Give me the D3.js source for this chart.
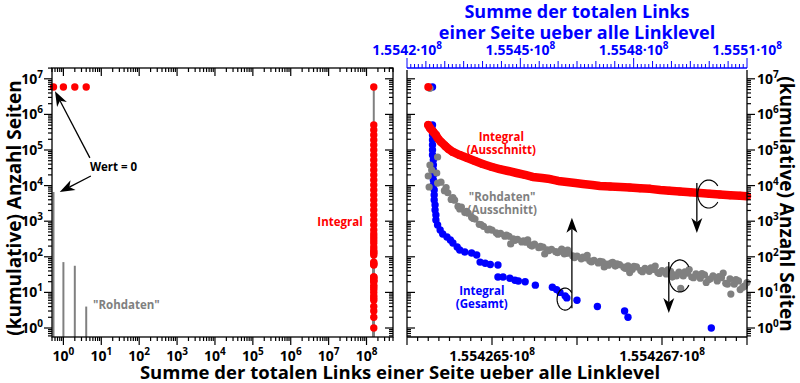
<!DOCTYPE html>
<html><head><meta charset="utf-8">
<script src="https://cdn.jsdelivr.net/npm/d3@7"></script>
<style>
body{margin:0;background:#fff}
svg{display:block}
text{font-family:"Open Sans",sans-serif;font-weight:bold}
</style>
</head><body><svg id="c" width="800" height="383"></svg>
<script>
// ---------------- data ----------------
const yTickExponents = [0,1,2,3,4,5,6,7];
const leftXTickExponents = [0,1,2,3,4,5,6,7,8];
const bottomRightTicks = [155426500, 155426700];
const topRightTicks = [155420000, 155450000, 155480000, 155510000];

// left panel: cumulative at small x (x = 0 shown at the axis edge)
const integralLow = [[0,5900000],[1,5900000],[2,5900000],[4,5900000]];
// left panel: raw data at small x
const rohdatenLow = [[0,6600],[1,71],[2,56],[4,4]];

// Integral (Gesamt) [x, count]
const integralGesamt = [
[155426430,5900000],
[155426430,503000],[155426430,365000],[155426430,264000],[155426430,191000],[155426430,138000],
[155426430,100000],[155426430,72400],[155426431,52400],[155426431,37900],[155426431,27400],
[155426431,19900],[155426431,14400],[155426431,10400],[155426432,7520],[155426432,5450],
[155426432,3940],[155426433,2850],[155426433,2060],[155426434,1490],[155426434,1080],
[155426436,782],[155426439,566],[155426442,437],[155426447,360],[155426451,296],[155426454,244],
[155426459,188],[155426462,155],[155426468,136],[155426476,128],[155426482,112],
[155426486,71],[155426492,66],[155426498,61],[155426507,59],
[155426507,27],[155426513,27],[155426521,25],[155426527,22],[155426531,21],[155426539,20],
[155426551,16],[155426571,14],[155426576,12],[155426580,10],[155426586,8],[155426588,7],
[155426600,6],[155426624,4],[155426656,3],[155426660,2],[155426758,1]
];

// Integral (Ausschnitt) [x, count]
const integralAusschnitt = [
[155426425,5900000],
[155426425,503000],[155426427,415000],[155426431,320000],[155426434,264000],[155426436,217000],
[155426440,168000],[155426445,130000],[155426449,107000],[155426454,88000],[155426462,72000],
[155426471,59600],[155426480,49000],[155426489,40500],[155426500,33300],[155426509,29200],
[155426519,25700],[155426529,22600],[155426539,19900],[155426548,17500],[155426559,16300],
[155426568,15300],[155426578,13500],[155426588,12600],[155426598,11800],[155426607,11100],
[155426618,10400],[155426627,9750],[155426639,9500],[155426651,9140],[155426662,8800],
[155426674,8450],[155426686,8100],[155426698,7520],[155426709,7140],[155426721,6830],
[155426733,6490],[155426745,6200],[155426756,5920],[155426768,5660],[155426780,5370],
[155426792,5160],[155426800,5040]
];

// "Rohdaten" (Ausschnitt) [x, count]
const rohdatenAusschnitt = [
[155426425,18600],[155426426,9140],[155426427,5400000],[155426427,37900],[155426429,27400],
[155426435,22600],[155426436,63600],[155426436,11800],
[155426440,12500],[155426444,7200],[155426446,8800],[155426448,6300],[155426452,4100],
[155426454,4600],[155426456,3900],[155426460,2600],[155426462,2200],[155426464,2500],
[155426468,1750],[155426470,1900],[155426472,1680],[155426476,1300],[155426478,1200],
[155426480,1150],[155426485,820],[155426487,800],[155426490,720],[155426495,570],
[155426497,600],[155426500,560],[155426505,470],[155426507,430],[155426510,455],
[155426515,380],[155426517,410],[155426520,375],[155426522,230],[155426525,320],[155426527,290],
[155426530,310],[155426535,262],[155426537,280],[155426540,258],[155426542,300],[155426545,215],
[155426547,200],[155426550,226],[155426555,180],[155426557,195],[155426560,186],[155426562,120],
[155426565,158],[155426567,150],[155426570,162],[155426575,139],[155426577,130],
[155426580,143],[155426582,165],[155426585,121],[155426587,125],[155426589,155],[155426590,127],
[155426595,106],[155426597,95],[155426600,104],[155426605,88],[155426607,98],
[155426610,93],[155426612,110],[155426615,77],[155426617,72],[155426620,80],[155426625,67],
[155426627,75],[155426630,72],[155426632,52],[155426635,62],[155426637,58],[155426640,66],
[155426642,70],[155426645,55],[155426647,63],[155426650,60],[155426655,51],[155426657,47],
[155426660,56],[155426662,36],[155426665,44],[155426667,54],[155426670,52],[155426675,41],
[155426677,38],[155426680,47],[155426685,39],[155426687,49],[155426690,44],[155426692,55],
[155426695,36],[155426697,34],[155426700,41],[155426705,33],[155426707,43],[155426710,39],
[155426712,27],[155426715,31],[155426717,29],[155426720,37],[155426722,13],[155426725,29],
[155426727,38],[155426730,35],[155426732,44],[155426735,27],[155426737,26],[155426740,33],
[155426745,25],[155426747,34],[155426750,31],[155426752,19],[155426755,23],[155426757,24],
[155426760,29],[155426765,21],[155426767,28],[155426770,26],[155426772,35],[155426775,18],
[155426777,17],[155426780,24],[155426781,9],[155426785,17],[155426787,23],[155426790,21],
[155426792,12],[155426795,14],[155426797,15],[155426800,19]
];

// annotations (data coordinates)
const wertArrows = [{from:[5.0,60000],to:[0.6,4500000]},{from:[5.3,18600],to:[0.8,6600]}];
const upArrow = {x:155426594, from:3.6, to:1240};
const downArrowRed = {x:155426741, from:11800, to:465};
const downArrowGrey = {x:155426708, from:71, to:2.64};
const curls = [{x:155426586,y:6.5,rx:8,ry:11},{x:155426755,y:5800,rx:11,ry:14},{x:155426721,y:29,rx:11,ry:16}];

// ---------------- layout ----------------
const svg = d3.select("#c");
const LP = {x0:52, x1:393, y0:68, y1:337};
const RP = {x0:407, x1:747, y0:68, y1:337};
const RED="#ff0000", BLUE="#0000ff", GREY="#808080";

const y = d3.scaleLog().domain([1,1e7]).range([328,78.8]);
const xL = d3.scaleLog().domain([0.5,5e8]).range([LP.x0,LP.x1]);
const xB = d3.scaleLinear().domain([155426400,155426800]).range([RP.x0,RP.x1]);
const xT = d3.scaleLinear().domain([155420000,155510000]).range([RP.x0,RP.x1]);
const xLp = v => v<=0 ? LP.x0+1.5 : xL(v);

function logTicks(scale, lo, hi, eMin, eMax){
  const out=[];
  for(let e=eMin;e<=eMax;e++) for(let m=1;m<=9;m++){
    const v=m*Math.pow(10,e), p=scale(v);
    if(p>=lo-0.01 && p<=hi+0.01) out.push({v,p,major:m===1,e});
  }
  return out;
}
const yT = logTicks(y, LP.y0, LP.y1, -1, 8);
const xLT = logTicks(xL, LP.x0, LP.x1, -1, 9);
const MAJ=8, MIN=4;

const g = svg.append("g");
function ln(x1,y1,x2,y2,col="#000",w=1.2){
  g.append("line").attr("x1",x1).attr("y1",y1).attr("x2",x2).attr("y2",y2)
   .attr("stroke",col).attr("stroke-width",w);
}
function powLabel(x,yy,exp,anchor,col="#000",pre=""){
  const t=g.append("text").attr("x",x).attr("y",yy).attr("text-anchor",anchor)
    .attr("font-size",14).attr("fill",col);
  t.append("tspan").text(pre+"10");
  t.append("tspan").attr("dy",-6).attr("font-size",10).text(exp);
  return t;
}

// ---- left panel data ----
const rawLeft = rohdatenLow.concat(rohdatenAusschnitt);
g.selectAll(".rawL").data(rawLeft).enter().append("line")
  .attr("x1",d=>xLp(d[0])).attr("x2",d=>xLp(d[0]))
  .attr("y1",LP.y1).attr("y2",d=>y(d[1]))
  .attr("stroke",GREY).attr("stroke-width",2);
const intLeft = integralLow.concat(integralGesamt);
g.selectAll(".intL").data(intLeft).enter().append("circle")
  .attr("cx",d=>xLp(d[0])).attr("cy",d=>y(d[1])).attr("r",3.7).attr("fill",RED);

// left frame & ticks (labelled sides: ticks outward; other sides: inward)
g.append("rect").attr("x",LP.x0).attr("y",LP.y0).attr("width",LP.x1-LP.x0).attr("height",LP.y1-LP.y0)
  .attr("fill","none").attr("stroke","#000").attr("stroke-width",1.3);
yT.forEach(t=>{const L=t.major?MAJ:MIN; ln(LP.x0,t.p,LP.x0-L,t.p); ln(LP.x1,t.p,LP.x1-L,t.p);});
xLT.forEach(t=>{const L=t.major?MAJ:MIN; ln(t.p,LP.y1,t.p,LP.y1+L); ln(t.p,LP.y0,t.p,LP.y0+L);});
yTickExponents.forEach(e=>powLabel(43,y(Math.pow(10,e))+5,e,"end"));
leftXTickExponents.forEach(e=>powLabel(xL(Math.pow(10,e)),361,e,"middle"));

// ---- right panel data ----
const dot=(cls,data,col,r,sc)=>g.selectAll("."+cls).data(data).enter().append("circle")
  .attr("cx",d=>sc(d[0])).attr("cy",d=>y(d[1])).attr("r",r).attr("fill",col);
dot("bl",integralGesamt,BLUE,3.7,xB);
dot("gr",rohdatenAusschnitt,GREY,3.6,xB);
g.append("path").datum(integralAusschnitt.slice(1))
  .attr("d",d3.line().x(d=>xB(d[0])).y(d=>y(d[1])))
  .attr("fill","none").attr("stroke",RED).attr("stroke-width",8.5)
  .attr("stroke-linecap","round").attr("stroke-linejoin","round");
dot("rd",integralAusschnitt,RED,4,xB);

// right frame
ln(RP.x0,70,RP.x0,RP.y1,"#000",1.3); ln(RP.x1,70,RP.x1,RP.y1,"#000",1.3);
ln(RP.x0,RP.y1,RP.x1,RP.y1,"#000",1.3);
yT.forEach(t=>{const L=t.major?MAJ:MIN; if(t.p<71) return; ln(RP.x0,t.p,RP.x0+L,t.p); ln(RP.x1,t.p,RP.x1+L,t.p);});
yTickExponents.forEach(e=>powLabel(757,y(Math.pow(10,e))+5,e,"start"));
d3.range(0,33).map(i=>155426400+i*12.5).forEach(v=>{const maj=(Math.abs(v%100)<1e-6); ln(xB(v),RP.y1,xB(v),RP.y1+(maj?MAJ:MIN));});
bottomRightTicks.forEach(v=>powLabel(xB(v),361,8,"middle","#000",d3.format(".7f")(v/1e8).replace(/0+$/,"")+"\u00b7"));
// top blue axis
ln(RP.x0,RP.y0,RP.x1,RP.y0,BLUE,1.3);
d3.range(155420000,155510001,1000).forEach(v=>{
  const k=(v-155420000);
  const L = k%30000===0?10:(k%5000===0?7:4);
  ln(xT(v),RP.y0,xT(v),RP.y0-L,BLUE,1);
});
topRightTicks.forEach(v=>powLabel(xT(v),55,8,"middle",BLUE,d3.format(".4f")(v/1e8)+"\u00b7"));

// ---- annotations ----
function arrow(x1,y1,x2,y2,L=15,W=11){
  const a=Math.atan2(y2-y1,x2-x1), ux=Math.cos(a), uy=Math.sin(a), px=-uy, py=ux;
  const bx=x2-L*ux, by=y2-L*uy, nx=x2-0.72*L*ux, ny=y2-0.72*L*uy;
  ln(x1,y1,nx,ny,"#000",1.3);
  g.append("path").attr("d",`M${x2},${y2}L${bx+px*W/2},${by+py*W/2}L${nx},${ny}L${bx-px*W/2},${by-py*W/2}Z`).attr("fill","#000");
}
wertArrows.forEach(a=>arrow(xL(a.from[0]),y(a.from[1]),xLp(a.to[0]),y(a.to[1])));
arrow(xB(upArrow.x),y(upArrow.from),xB(upArrow.x),y(upArrow.to));
arrow(xB(downArrowRed.x),y(downArrowRed.from),xB(downArrowRed.x),y(downArrowRed.to));
arrow(xB(downArrowGrey.x),y(downArrowGrey.from),xB(downArrowGrey.x),y(downArrowGrey.to));
curls.forEach(c=>{
  const cx=xB(c.x), cy=y(c.y), a0=35*Math.PI/180, a1=325*Math.PI/180;
  const pts=d3.range(0,61).map(i=>{const a=a0+(a1-a0)*i/60; return [cx+c.rx*Math.cos(a), cy-c.ry*Math.sin(a)];});
  g.append("path").attr("d",d3.line()(pts)).attr("fill","none").attr("stroke","#000").attr("stroke-width",1.2);
});

// ---- texts ----
function txt(x,yy,s,col,size,anchor="middle"){
  return g.append("text").attr("x",x).attr("y",yy).attr("text-anchor",anchor).attr("font-size",size).attr("fill",col).text(s);
}
function txt2(x,yy,s1,s2,col,size){
  const t=g.append("text").attr("x",x).attr("y",yy).attr("text-anchor","middle").attr("font-size",size).attr("fill",col);
  t.append("tspan").attr("x",x).text(s1);
  t.append("tspan").attr("x",x).attr("dy",13).text(s2);
}
txt(xL(5.0),y(25700),"Wert = 0","#000",11.5,"start");
txt(xL(2.0e7),y(733),"Integral",RED,11.5);
txt(xL(46),y(3.4),"\"Rohdaten\"",GREY,11.5);
txt2(xB(155426511),y(179000),"Integral","(Ausschnitt)",RED,11.5);
txt2(xB(155426512),y(3690),"\"Rohdaten\"","(Ausschnitt)",GREY,11.5);
txt2(xB(155426488),y(8.45),"Integral","(Gesamt)",BLUE,11.5);

txt(577,18,"Summe der totalen Links",BLUE,18);
txt(577,39,"einer Seite ueber alle Linklevel",BLUE,18);
txt(400,379,"Summe der totalen Links einer Seite ueber alle Linklevel","#000",18.5);
g.append("text").attr("transform","translate(21,208) rotate(-90)").attr("text-anchor","middle")
  .attr("font-size",19).text("(kumulative) Anzahl Seiten");
g.append("text").attr("transform","translate(780,204) rotate(90)").attr("text-anchor","middle")
  .attr("font-size",19).text("(kumulative) Anzahl Seiten");
</script>
</body></html>
